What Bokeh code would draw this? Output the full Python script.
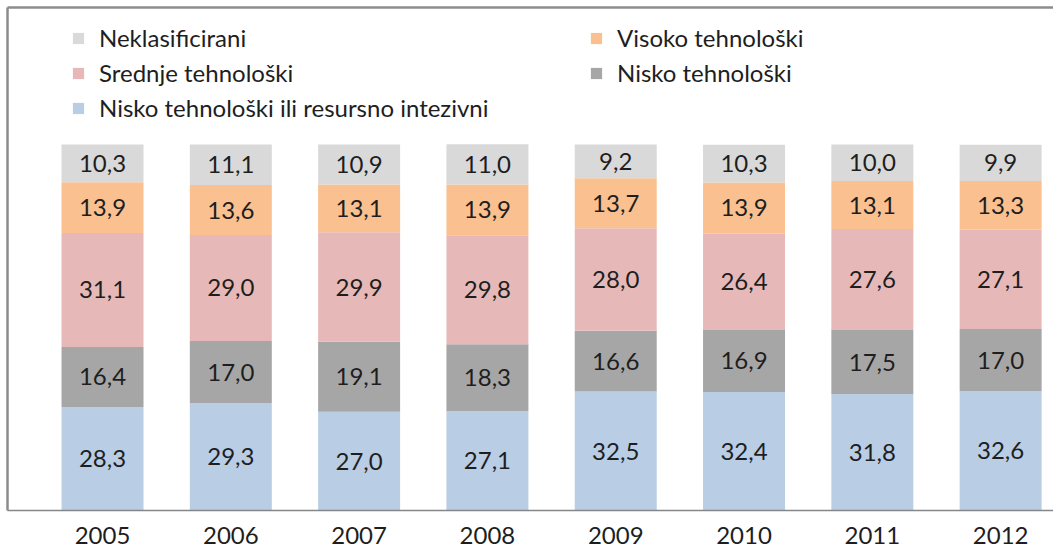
import numpy as np
from bokeh.plotting import figure
from bokeh.models import (ColumnDataSource, Range1d, FixedTicker, Legend, LegendItem,
                          LinearAxis)
from bokeh.core.properties import value
from bokeh.embed import file_html
from bokeh.resources import INLINE

years = [2005, 2006, 2007, 2008, 2009, 2010, 2011, 2012]
series_names = [
    "Nisko tehnološki ili resursno intezivni",
    "Nisko tehnološki",
    "Srednje tehnološki",
    "Visoko tehnološki",
    "Neklasificirani",
]
nisko_resursno = [28.3, 29.3, 27.0, 27.1, 32.5, 32.4, 31.8, 32.6]
nisko = [16.4, 17.0, 19.1, 18.3, 16.6, 16.9, 17.5, 17.0]
srednje = [31.1, 29.0, 29.9, 29.8, 28.0, 26.4, 27.6, 27.1]
visoko = [13.9, 13.6, 13.1, 13.9, 13.7, 13.9, 13.1, 13.3]
neklas = [10.3, 11.1, 10.9, 11.0, 9.2, 10.3, 10.0, 9.9]

colors = ["#B9CDE5", "#A6A6A6", "#E6B9B8", "#FAC090", "#D9D9D9"]
keys = ["s0", "s1", "s2", "s3", "s4"]
values = [nisko_resursno, nisko, srednje, visoko, neklas]

FONT = "Lato"
TEXT_COLOR = "#1e1e1e"
FRAME_COLOR = "#8c8c8c"

data = {"x": years}
for k, v in zip(keys, values):
    data[k] = v
source = ColumnDataSource(data)

p = figure(width=1053, height=555, output_backend="svg", toolbar_location=None,
           x_range=Range1d(2004.2595, 2012.412), y_range=Range1d(0, 137.43),
           x_axis_location=None, y_axis_location=None,
           min_border_left=7, min_border_right=0,
           min_border_top=7, min_border_bottom=45)
p.xgrid.visible = False
p.ygrid.visible = False
p.outline_line_color = None
p.background_fill_color = "white"
p.border_fill_color = "white"

# chart-area frame on left and top (right and bottom are cut off in the original)
for side in ("left", "above"):
    fa = LinearAxis(ticker=FixedTicker(ticks=[]), axis_line_color=FRAME_COLOR,
                    axis_line_width=2.5, major_tick_line_color=None,
                    minor_tick_line_color=None, major_tick_out=0, major_tick_in=0,
                    minor_tick_out=0, minor_tick_in=0, major_label_standoff=0,
                    major_label_text_font_size="0px")
    p.add_layout(fa, side)

# category (year) axis
ax = LinearAxis(ticker=FixedTicker(ticks=years), major_tick_line_color=None,
                minor_tick_line_color=None, major_tick_out=0, major_tick_in=0,
                minor_tick_out=0, minor_tick_in=0,
                axis_line_color="#868686", axis_line_width=1.3,
                major_label_standoff=16, major_label_text_font=FONT,
                major_label_text_font_size="24px", major_label_text_color=TEXT_COLOR)
p.add_layout(ax, "below")

renderers = p.vbar_stack(keys, x="x", width=0.639, color=colors, line_color=None,
                         source=source)

# value labels
arr = np.array(values)
cum = np.cumsum(arr, axis=0)
mid = cum - arr / 2.0
lx, ly, lt = [], [], []
for i in range(arr.shape[0]):
    for j, yr in enumerate(years):
        lx.append(yr)
        ly.append(mid[i, j])
        lt.append(f"{arr[i, j]:.1f}".replace(".", ","))
p.text(x=lx, y=ly, text=lt, text_align="center", text_baseline="middle",
       text_font=value(FONT), text_font_size="24px", text_color=TEXT_COLOR)

def make_legend(idx, loc):
    items = [LegendItem(label=series_names[i], renderers=[renderers[i]]) for i in idx]
    lg = Legend(items=items, location=loc, orientation="vertical",
                padding=0, margin=0, spacing=6, label_standoff=14,
                glyph_width=14, glyph_height=14, label_height=24,
                label_text_font=FONT, label_text_font_size="24px",
                label_text_color=TEXT_COLOR, border_line_color=None,
                background_fill_alpha=0)
    p.add_layout(lg)
    return lg

make_legend([4, 2, 0], (64, 388))
make_legend([3, 1], (582, 423))

open("out.html", "w").write(file_html(p, INLINE))
